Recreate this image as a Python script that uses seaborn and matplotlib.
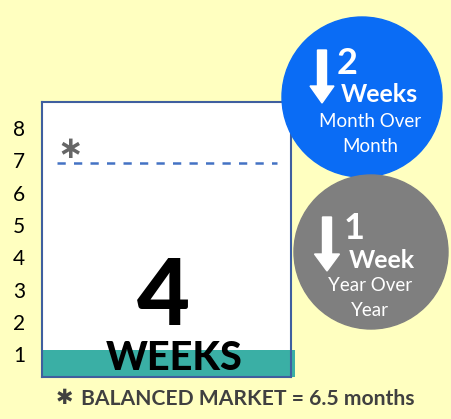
import numpy as np
import pandas as pd
import seaborn as sns
import matplotlib
matplotlib.use('Agg')
import matplotlib.pyplot as plt
from matplotlib.patches import Circle, FancyArrow

# ---------- data ----------
y_ticks = [1, 2, 3, 4, 5, 6, 7, 8]
bar_label = ["weeks"]
bar_value = [1.15]
balanced_line = 6.9         # dashed "balanced market" line
headline_weeks = 4
mom_change = 2              # month over month, weeks down
yoy_change = 1              # year over year, week down
footer = "BALANCED MARKET = 6.5 months"

bg = "#FFFFC0"
teal = "#3AAFA5"
blue = "#0A6CF5"
grey = "#7F7F7F"

plt.rcParams['font.family'] = ['Lato', 'DejaVu Sans']

W, H = 452, 419
fig = plt.figure(figsize=(W / 100, H / 100), dpi=100, facecolor=bg)

# main panel
ax = fig.add_axes([42 / W, 1 - 377 / H, (291 - 42) / W, (377 - 102) / H])
ax.set_facecolor("white")
ymin = 0.3
df = pd.DataFrame({"cat": bar_label, "val": np.array(bar_value) - ymin})
sns.barplot(data=df, x="cat", y="val", bottom=ymin, color=teal, width=1.0,
            saturation=1, ax=ax, zorder=3)
for p in ax.patches:
    p.set_clip_on(False)
    p.set_linewidth(0)
ax.set_xlim(-0.5, 0.484)
ax.set_ylim(ymin, 8.8)
ax.set_yticks(y_ticks)
ax.set_yticklabels([str(t) for t in y_ticks], fontsize=15)
ax.tick_params(axis='y', length=0, pad=12)
ax.set_xticks([])
ax.set_xlabel("")
ax.set_ylabel("")
for s in ax.spines.values():
    s.set_color("#3F5F9F")
    s.set_linewidth(1.5)
    s.set_zorder(6)

ax.hlines(balanced_line, -0.44, 0.43, colors="#4472C4", linestyles=(0, (3.3, 3.3)), lw=1.8)
ax.text(-0.39, balanced_line + 0.42, "\u2217", fontsize=22, color="#666666",
        ha="center", va="center", fontweight="bold", family="DejaVu Sans")
ax.text(-0.02, 2.7, str(headline_weeks), fontsize=66, fontweight="black",
        ha="center", va="center", color="black")
ax.text(0.022, 0.86, "WEEKS", fontsize=28.5, fontweight="black",
        ha="center", va="center", color="black", zorder=5)

# overlay in pixel coordinates for the badges
ov = fig.add_axes([0, 0, 1, 1], zorder=5)
ov.set_xlim(0, W)
ov.set_ylim(H, 0)
ov.axis("off")
ov.patch.set_alpha(0)

ov.add_patch(Circle((362, 97), 80, color=blue))
ov.add_patch(FancyArrow(322, 50, 0, 53, width=9, head_width=24, head_length=17,
                        length_includes_head=True, color="white"))
ov.text(337, 64, str(mom_change), fontsize=26, fontweight="bold", color="white",
        ha="left", va="center")
ov.text(379, 95, "Weeks", fontsize=18, fontweight="bold", color="white",
        ha="center", va="center")
ov.text(370, 121, "Month Over", fontsize=13.5, color="white", ha="center", va="center")
ov.text(370, 146, "Month", fontsize=13.5, color="white", ha="center", va="center")

ov.add_patch(Circle((371, 252), 77, color=grey))
ov.add_patch(FancyArrow(327, 217, 0, 54, width=9, head_width=25, head_length=17,
                        length_includes_head=True, color="white"))
ov.text(344, 228, str(yoy_change), fontsize=26, fontweight="bold", color="white",
        ha="left", va="center")
ov.text(382, 260, "Week", fontsize=18, fontweight="bold", color="white",
        ha="center", va="center")
ov.text(370, 285, "Year Over", fontsize=13.5, color="white", ha="center", va="center")
ov.text(370, 310, "Year", fontsize=13.5, color="white", ha="center", va="center")

ov.text(64, 398, "\u2731", fontsize=15, color="#404040",
        ha="center", va="center", family="DejaVu Sans")
ov.text(248, 399, footer, fontsize=15.2, fontweight="bold", color="#404040",
        ha="center", va="center")

fig.savefig("out.png", dpi=100, facecolor=bg)
